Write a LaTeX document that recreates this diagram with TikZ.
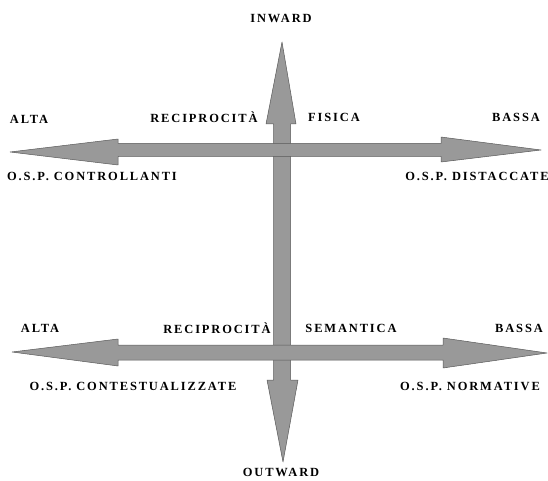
\documentclass[tikz,border=0pt]{standalone}
\usepackage{fontspec}
\setmainfont{Liberation Serif}
\newfontfamily\labelfont[LetterSpace=15]{Liberation Serif}
\usetikzlibrary{calc}

\tikzset{
  fat arrow/.style={fill=black!40, draw=black!65, line width=0.5pt, line join=round},
  lbl/.style={font=\labelfont\bfseries\fontsize{12.5}{14}\selectfont, inner sep=0pt}
}

\begin{document}
\begin{tikzpicture}[x=1bp, y=-1bp]
  \useasboundingbox (0,0) rectangle (548,481);
  % asse verticale
  \draw[fat arrow] (282,42) -- (296,124) -- (290.5,124) -- (290.5,380) -- (298,380)
    -- (283,462) -- (267,380) -- (273.5,380) -- (273.5,124) -- (266,124) -- cycle;
  % reciprocità fisica
  \draw[fat arrow] (10,152) -- (118,139) -- (118,143.5) -- (441,143.5) -- (441,137)
    -- (541,150) -- (441,162) -- (441,156.5) -- (118,156.5) -- (118,165) -- cycle;
  % reciprocità semantica
  \draw[fat arrow] (12,352) -- (118,339) -- (118,345) -- (443,345) -- (443,338)
    -- (547,353) -- (443,368) -- (443,360) -- (118,360) -- (118,366) -- cycle;

  \node[lbl] (inw)  at (281, 18)  {INWARD};
  \node[lbl] (outw) at (281, 472) {OUTWARD};

  \node[lbl] (alta1)  at (29, 119)  {ALTA};
  \node[lbl] (rec1)   at (204, 117) {RECIPROCITÀ};
  \node[lbl] (fis)    at (334, 117) {FISICA};
  \node[lbl] (bassa1) at (516, 117) {BASSA};
  \node[lbl] (contr)  at (92, 176)  {O.S.P. CONTROLLANTI};
  \node[lbl] (dist)   at (477, 176) {O.S.P. DISTACCATE};

  \node[lbl] (alta2)  at (40, 328)  {ALTA};
  \node[lbl] (rec2)   at (217, 328) {RECIPROCITÀ};
  \node[lbl] (sem)    at (351, 328) {SEMANTICA};
  \node[lbl] (bassa2) at (519, 328) {BASSA};
  \node[lbl] (cont)   at (133, 386) {O.S.P. CONTESTUALIZZATE};
  \node[lbl] (norm)   at (470, 386) {O.S.P. NORMATIVE};
\end{tikzpicture}
\end{document}
